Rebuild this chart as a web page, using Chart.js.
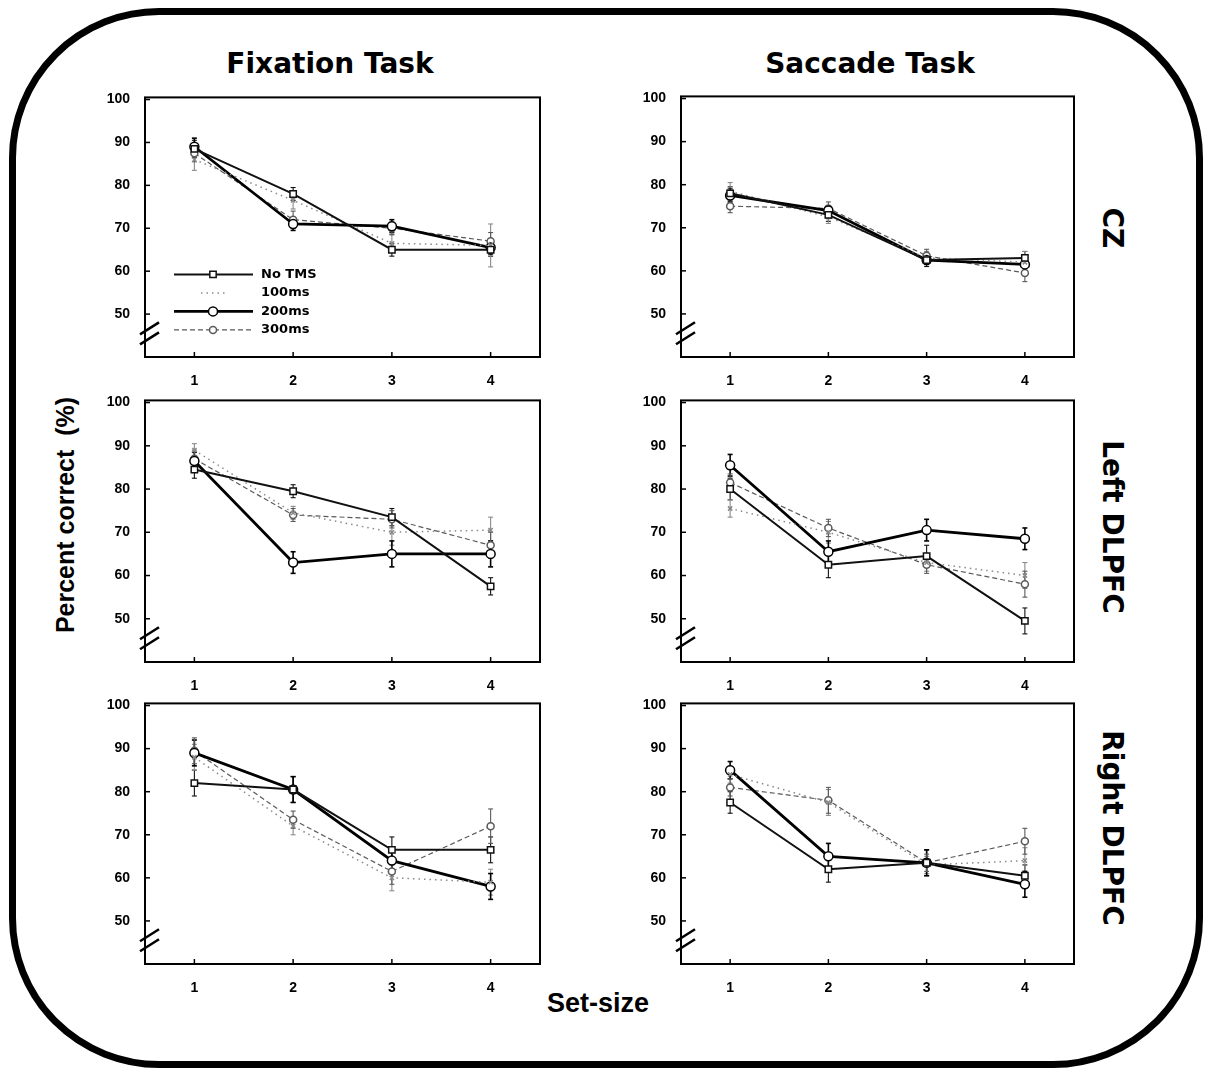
<!DOCTYPE html>
<html>
<head>
<meta charset="utf-8">
<script src="https://cdn.jsdelivr.net/npm/chart.js@4.4.1/dist/chart.umd.min.js"></script>
<style>
  body { margin: 0; background: #fff; width: 1209px; height: 1078px; position: relative; overflow: hidden; }
  canvas { position: absolute; }
  .box { position: absolute; left: 9px; top: 8px; width: 1194px; height: 1060px; box-sizing: border-box;
         border: 7px solid #000; border-radius: 150px; }
  .lbl { position: absolute; font-weight: bold; color: #000; white-space: pre; line-height: 1;
         transform: translate(-50%, -50%); }
  .big { font-family: "DejaVu Sans", sans-serif; font-size: 28px; }
  .axt { font-family: "Liberation Sans", Arial, sans-serif; }
</style>
</head>
<body>
<div class="box"></div>
<div class="lbl big" style="left:330px; top:64px;">Fixation Task</div>
<div class="lbl big" style="left:870px; top:64px;">Saccade Task</div>
<div class="lbl big" style="left:1112px; top:228px; transform: translate(-50%,-50%) rotate(90deg);">CZ</div>
<div class="lbl big" style="left:1112px; top:527px; transform: translate(-50%,-50%) rotate(90deg);">Left DLPFC</div>
<div class="lbl big" style="left:1112px; top:828px; transform: translate(-50%,-50%) rotate(90deg);">Right DLPFC</div>
<div class="lbl axt" style="left:65px; top:515px; font-size:25px; transform: translate(-50%,-50%) rotate(-90deg);">Percent correct  (%)</div>
<div class="lbl axt" style="left:598px; top:1003px; font-size:27px;">Set-size</div>

<canvas id="c0"></canvas>
<canvas id="c1"></canvas>
<canvas id="c2"></canvas>
<canvas id="c3"></canvas>
<canvas id="c4"></canvas>
<canvas id="c5"></canvas>

<script>
var setSizes = [1, 2, 3, 4];
var seriesNames = ["No TMS", "100ms", "200ms", "300ms"];
var yTicks = [50, 60, 70, 80, 90, 100];

// percent correct per set-size; rows = No TMS, 100ms, 200ms, 300ms
var fixationCz = [[88.5, 78, 65, 65], [86, 76.5, 66.5, 66], [89, 71, 70.5, 65.5], [87.5, 72, 70, 67]];
var saccadeCz = [[78, 73, 62.5, 63], [78.5, 72.5, 63, 62], [77.5, 74, 62.5, 61.5], [75, 74.5, 63.5, 59.5]];
var fixationLeft = [[84.5, 79.5, 73.5, 57.5], [89, 74.5, 70, 70.5], [86.5, 63, 65, 65], [87, 74, 73, 67]];
var saccadeLeft = [[80, 62.5, 64.5, 49.5], [75.5, 70, 63, 60], [85.5, 65.5, 70.5, 68.5], [81.5, 71, 62.5, 58]];
var fixationRight = [[82, 80.5, 66.5, 66.5], [88, 72, 60, 59], [89, 80.5, 64, 58], [89.5, 73.5, 61.5, 72]];
var saccadeRight = [[77.5, 62, 63.5, 60.5], [84, 77.5, 63, 64], [85, 65, 63.5, 58.5], [81, 78, 63.5, 68.5]];

// standard error bars, same layout
var fixationCzErr = [[2, 1.5, 1.5, 1.5], [2.5, 2, 2, 5], [2, 1.5, 1.5, 1.5], [2, 2, 1.5, 2]];
var saccadeCzErr = [[1.5, 1.5, 1.5, 1.5], [2, 1.5, 1.5, 2.5], [1.5, 1, 1, 1.5], [1.5, 1.5, 1.5, 2]];
var fixationLeftErr = [[2, 1.5, 2, 2], [1.5, 1.5, 3, 3], [2, 2.5, 3, 3], [2, 1.5, 2, 3]];
var saccadeLeftErr = [[2.5, 3, 2.5, 3], [2, 2.5, 2, 3], [2.5, 2.5, 2.5, 2.5], [2, 2, 2, 3]];
var fixationRightErr = [[3, 3, 3, 3], [3, 2, 3, 3], [3, 3, 3, 3], [3, 2, 3, 4]];
var saccadeRightErr = [[2.5, 3, 3, 2.5], [2, 3, 2, 3], [2, 3, 3, 3], [2, 3, 2, 3]];

var styles = [
  { color: "#111", width: 2, dash: [], point: "rect", r: 4.5 },
  { color: "#8a8a8a", width: 1.5, dash: [1.5, 4], point: "crossRot", r: 3 },
  { color: "#000", width: 2.8, dash: [], point: "circle", r: 4.5 },
  { color: "#5a5a5a", width: 1.2, dash: [5, 3], point: "circle", r: 3.5 }
];

// plot-area boxes: left, top, right, bottom
var panels = [
  { id: "c0", box: [145, 94, 540, 357], data: fixationCz, err: fixationCzErr, legend: true },
  { id: "c1", box: [681, 93, 1074, 357], data: saccadeCz, err: saccadeCzErr },
  { id: "c2", box: [145, 397, 540, 662], data: fixationLeft, err: fixationLeftErr },
  { id: "c3", box: [681, 397, 1074, 662], data: saccadeLeft, err: saccadeLeftErr },
  { id: "c4", box: [145, 700, 540, 964], data: fixationRight, err: fixationRightErr },
  { id: "c5", box: [681, 700, 1074, 964], data: saccadeRight, err: saccadeRightErr }
];

var PAD_L = 50, PAD_T = 12, PAD_R = 8, PAD_B = 30;

function line(ctx, x1, y1, x2, y2) {
  ctx.beginPath(); ctx.moveTo(x1, y1); ctx.lineTo(x2, y2); ctx.stroke();
}

var decor = {
  id: "decor",
  beforeDatasetsDraw: function(chart, args, opts) {
    var ctx = chart.ctx, ys = chart.scales.y;
    ctx.save();
    chart.data.datasets.forEach(function(ds, i) {
      var meta = chart.getDatasetMeta(i);
      ctx.strokeStyle = ds.borderColor;
      ctx.lineWidth = i == 2 ? 1.6 : 1.1;
      meta.data.forEach(function(pt, j) {
        var v = ds.data[j].y, e = opts.err[i][j];
        var t = ys.getPixelForValue(v + e), b = ys.getPixelForValue(v - e);
        line(ctx, pt.x, t, pt.x, b);
        line(ctx, pt.x - 2.5, t, pt.x + 2.5, t);
        line(ctx, pt.x - 2.5, b, pt.x + 2.5, b);
      });
    });
    ctx.restore();
  },
  afterDraw: function(chart, args, opts) {
    var ctx = chart.ctx, a = chart.chartArea, ys = chart.scales.y, xs = chart.scales.x;
    ctx.save();
    ctx.strokeStyle = "#000";
    ctx.lineWidth = 2;
    ctx.strokeRect(a.left, a.top, a.right - a.left, a.bottom - a.top);
    ctx.lineWidth = 1.5;
    yTicks.forEach(function(v) {
      var y = ys.getPixelForValue(v);
      line(ctx, a.left, y, a.left + 5, y);
    });
    setSizes.forEach(function(v) {
      var x = xs.getPixelForValue(v);
      line(ctx, x, a.bottom, x, a.bottom - 5);
    });
    // axis break marks
    var yb = ys.getPixelForValue(45.5);
    ctx.lineWidth = 2.5;
    [-5, 5].forEach(function(o) {
      line(ctx, a.left - 5, yb + o + 6, a.left + 14, yb + o - 6);
    });
    if (opts.legend) {
      ctx.font = "bold 13px 'DejaVu Sans'";
      ctx.textBaseline = "middle";
      chart.data.datasets.forEach(function(ds, i) {
        var y = a.top + 177 + i * 18.5, x0 = a.left + 29, x1 = a.left + 108, xm = a.left + 68;
        ctx.strokeStyle = ds.borderColor;
        ctx.lineWidth = ds.borderWidth;
        ctx.setLineDash(ds.borderDash);
        if (i == 1) {
          line(ctx, xm - 12, y, xm + 12, y);
        } else {
          line(ctx, x0, y, x1, y);
        }
        ctx.setLineDash([]);
        if (i != 1) {
          ctx.fillStyle = "#fff";
          ctx.strokeStyle = ds.borderColor;
          ctx.lineWidth = 1.5;
          Chart.helpers.drawPoint(ctx, {
            pointStyle: ds.pointStyle, radius: ds.pointRadius, borderWidth: 1.5, rotation: 0
          }, xm, y);
        }
        ctx.fillStyle = "#000";
        ctx.fillText(ds.label, a.left + 116, y);
      });
    }
    ctx.restore();
  }
};

panels.forEach(function(p) {
  var cv = document.getElementById(p.id);
  var L = p.box[0], T = p.box[1], R = p.box[2], B = p.box[3];
  cv.width = (R - L) + PAD_L + PAD_R;
  cv.height = (B - T) + PAD_T + PAD_B;
  cv.style.left = (L - PAD_L) + "px";
  cv.style.top = (T - PAD_T) + "px";

  var datasets = seriesNames.map(function(name, i) {
    var s = styles[i];
    return {
      label: name,
      data: setSizes.map(function(x, j) { return { x: x, y: p.data[i][j] }; }),
      borderColor: s.color,
      borderWidth: s.width,
      borderDash: s.dash,
      pointStyle: s.point,
      pointRadius: s.r,
      pointBorderWidth: 1.5,
      pointBackgroundColor: "#fff",
      pointBorderColor: s.color,
      tension: 0,
      fill: false
    };
  });

  new Chart(cv, {
    type: "line",
    data: { datasets: datasets },
    plugins: [decor],
    options: {
      responsive: false,
      animation: false,
      devicePixelRatio: 1,
      layout: { padding: { top: PAD_T, right: PAD_R, left: 0, bottom: 0 } },
      plugins: {
        legend: { display: false },
        tooltip: { enabled: false },
        decor: { err: p.err, legend: !!p.legend }
      },
      scales: {
        x: {
          type: "linear", min: 0.5, max: 4.5,
          afterBuildTicks: function(s) { s.ticks = setSizes.map(function(v) { return { value: v }; }); },
          afterFit: function(s) { s.height = PAD_B; },
          grid: { display: false }, border: { display: false },
          ticks: { color: "#000", padding: 8, maxRotation: 0,
                   font: { family: "Liberation Sans", size: 14, weight: "bold" } }
        },
        y: {
          min: 40, max: 100.5,
          afterBuildTicks: function(s) { s.ticks = yTicks.map(function(v) { return { value: v }; }); },
          afterFit: function(s) { s.width = PAD_L; },
          grid: { display: false }, border: { display: false },
          ticks: { color: "#000", padding: 7,
                   font: { family: "Liberation Sans", size: 14, weight: "bold" } }
        }
      }
    }
  });
});
</script>
</body>
</html>
